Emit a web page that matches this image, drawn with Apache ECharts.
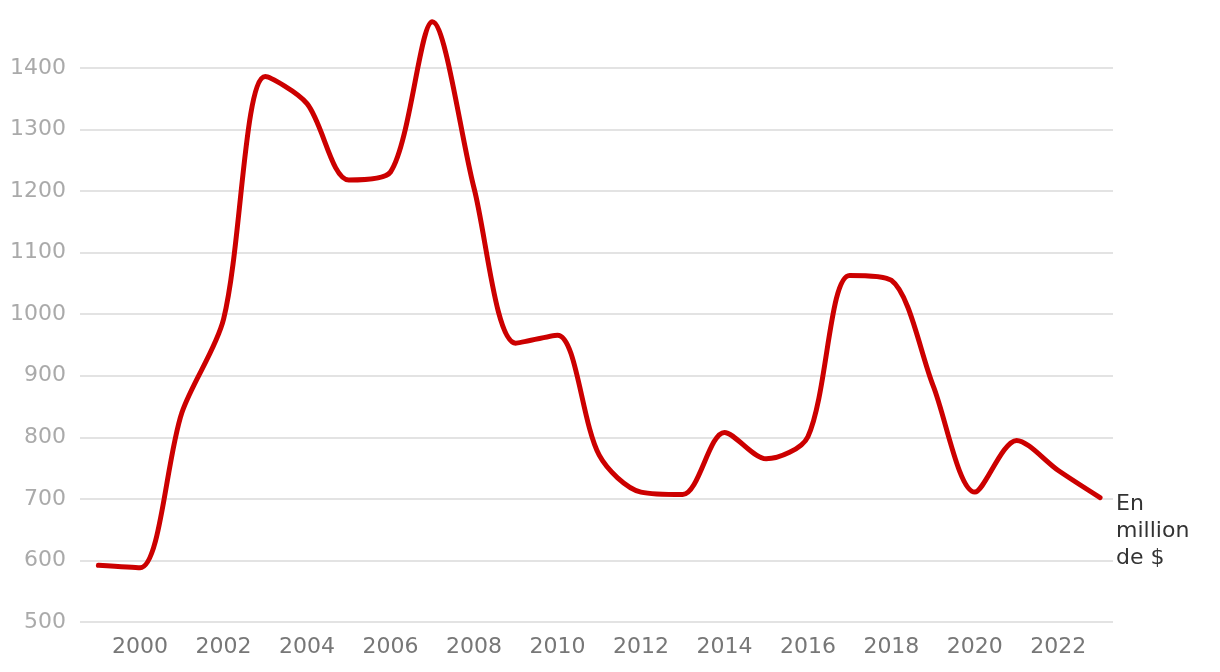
<!DOCTYPE html>
<html>
<head>
<meta charset="utf-8">
<script src="https://cdn.jsdelivr.net/npm/echarts@6/dist/echarts.min.js"></script>
<style>
html,body{margin:0;padding:0;background:#fff;}
#chart{width:1220px;height:672px;}
</style>
</head>
<body>
<div id="chart"></div>
<script>
const years = [1999,2000,2001,2002,2003,2004,2005,2006,2007,2008,2009,2010,2011,2012,2013,2014,2015,2016,2017,2018,2019,2020,2021,2022,2023];
const values = [592,588,840,992,1386,1342,1218,1231,1475,1205,953,966,771,711,707,808,765,801,1063,1055,884,711,795,746,702];
const xTickLabels = [2000,2002,2004,2006,2008,2010,2012,2014,2016,2018,2020,2022];
const yTicks = [500,600,700,800,900,1000,1100,1200,1300,1400];
const unitLabel = 'En\nmillion\nde $';

const chart = echarts.init(document.getElementById('chart'));
const gridColors = yTicks.map(() => '#e3e3e3').concat(['rgba(0,0,0,0)']);
const FONT = 'DejaVu Sans';
chart.setOption({
  animation: false,
  grid: {left: 80, right: 107, top: 6.4, bottom: 50, containLabel: false},
  xAxis: {
    type: 'value',
    min: 1998.56,
    max: 2023.31,
    axisLine: {show: false},
    axisTick: {show: false},
    splitLine: {show: false},
    axisLabel: {
      customValues: xTickLabels,
      color: '#777',
      fontSize: 22,
      fontFamily: FONT,
      margin: 14,
      formatter: v => String(v)
    }
  },
  yAxis: {
    type: 'value',
    min: 500,
    max: 1500,
    interval: 100,
    axisLine: {show: false},
    axisTick: {show: false},
    splitLine: {show: true, lineStyle: {color: gridColors, width: 2}},
    axisLabel: {
      color: '#aaa',
      fontSize: 22,
      fontFamily: FONT,
      margin: 14,
      showMaxLabel: false,
      formatter: v => (v >= 1500 ? '' : String(v))
    }
  },
  series: [{
    type: 'line',
    data: years.map((y, i) => [y, values[i]]),
    smooth: 0.3,
    showSymbol: false,
    lineStyle: {color: '#cc0000', width: 5, cap: 'round', join: 'round'},
    endLabel: {
      show: true,
      formatter: unitLabel,
      color: '#333',
      fontSize: 22,
      fontFamily: FONT,
      lineHeight: 27,
      align: 'left',
      verticalAlign: 'top',
      distance: 16,
      offset: [0, -7]
    }
  }]
});
</script>
</body>
</html>
